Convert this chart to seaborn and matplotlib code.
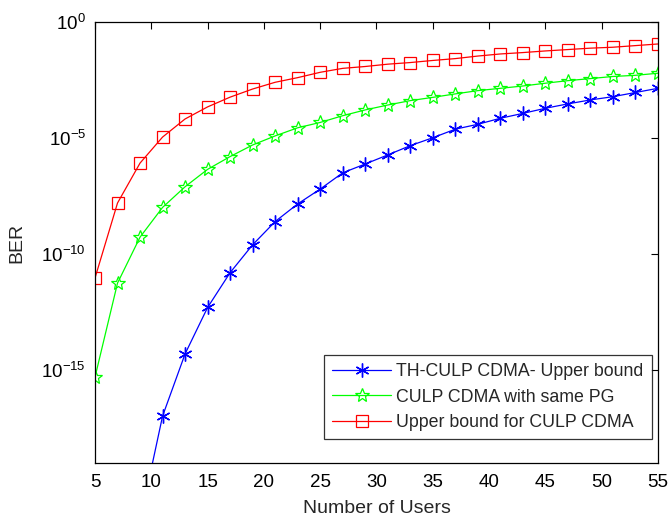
import numpy as np
import pandas as pd
import seaborn as sns
import matplotlib
matplotlib.use("Agg")
import matplotlib.pyplot as plt

# number of users
users = [5, 7, 9, 11, 13, 15, 17, 19, 21, 23, 25, 27, 29, 31, 33, 35, 37, 39, 41, 43, 45, 47, 49, 51, 53, 55]

# log10(BER)
th_culp_log = [-36, -28, -21.5, -16.98, -14.3, -12.3, -10.8, -9.6, -8.6, -7.84, -7.2, -6.5, -6.12,
               -5.73, -5.33, -4.99, -4.62, -4.41, -4.15, -3.94, -3.72, -3.53, -3.36, -3.22, -3.04, -2.86]
culp_pg_log = [-15.3, -11.25, -9.27, -7.99, -7.1, -6.35, -5.8, -5.3, -4.91, -4.56, -4.33, -4.04, -3.79,
               -3.58, -3.39, -3.25, -3.1, -2.96, -2.86, -2.76, -2.64, -2.53, -2.44, -2.35, -2.3, -2.21]
upper_log = [-11.03, -7.8, -6.08, -4.96, -4.18, -3.66, -3.24, -2.89, -2.6, -2.4, -2.17, -2.0, -1.92,
             -1.82, -1.75, -1.66, -1.58, -1.47, -1.38, -1.32, -1.25, -1.19, -1.13, -1.09, -1.02, -0.95]

labels = ["TH-CULP CDMA- Upper bound", "CULP CDMA with same PG", "Upper bound for CULP CDMA"]

df = pd.DataFrame({
    "users": users,
    labels[0]: 10.0 ** np.array(th_culp_log),
    labels[1]: 10.0 ** np.array(culp_pg_log),
    labels[2]: 10.0 ** np.array(upper_log),
})

sns.set_style("white")
plt.rcParams["font.family"] = ["Liberation Sans", "DejaVu Sans"]

fig = plt.figure(figsize=(6.7, 5.22), dpi=100)
ax = fig.add_axes([0.1418, 0.113, 0.8402, 0.845])

sns.lineplot(data=df, x="users", y=labels[0], ax=ax, color=(0, 0, 1), lw=0.9,
             marker=(6, 2, 0), markersize=10, markeredgewidth=1.0, markeredgecolor=(0, 0, 1),
             label=labels[0])
sns.lineplot(data=df, x="users", y=labels[1], ax=ax, color=(0, 1, 0), lw=0.9,
             marker="*", markersize=10, markerfacecolor="none", markeredgewidth=0.9,
             markeredgecolor=(0, 1, 0), label=labels[1])
sns.lineplot(data=df, x="users", y=labels[2], ax=ax, color=(1, 0, 0), lw=0.9,
             marker="s", markersize=8, markerfacecolor="none", markeredgewidth=0.9,
             markeredgecolor=(1, 0, 0), label=labels[2])

ax.set_yscale("log")
ax.set_xlim(5, 55)
ax.set_ylim(1e-19, 1e0)
ax.set_xticks(range(5, 56, 5))
ax.set_yticks([1e-15, 1e-10, 1e-5, 1e0])
ax.minorticks_off()
ax.tick_params(direction="in", top=True, right=True, length=5, width=0.8,
               labelsize=13.5, colors="black")
ax.tick_params(axis="x", pad=8)
ax.tick_params(axis="y", pad=6.5)
for s in ax.spines.values():
    s.set_color("black")
    s.set_linewidth(0.9)

ax.set_xlabel("Number of Users", fontsize=14)
ax.set_ylabel("BER", fontsize=14)
ax.xaxis.set_label_coords(0.5, -0.084)
ax.yaxis.set_label_coords(-0.124, 0.5)

leg = ax.legend(loc="lower right", bbox_to_anchor=(0.989, 0.054), fontsize=12.8, frameon=True,
                fancybox=False, edgecolor="black", borderaxespad=0, handlelength=3.3,
                labelspacing=0.48, borderpad=0.45, handletextpad=0.3)
leg.get_frame().set_linewidth(0.9)

fig.savefig("out.png", dpi=100)
